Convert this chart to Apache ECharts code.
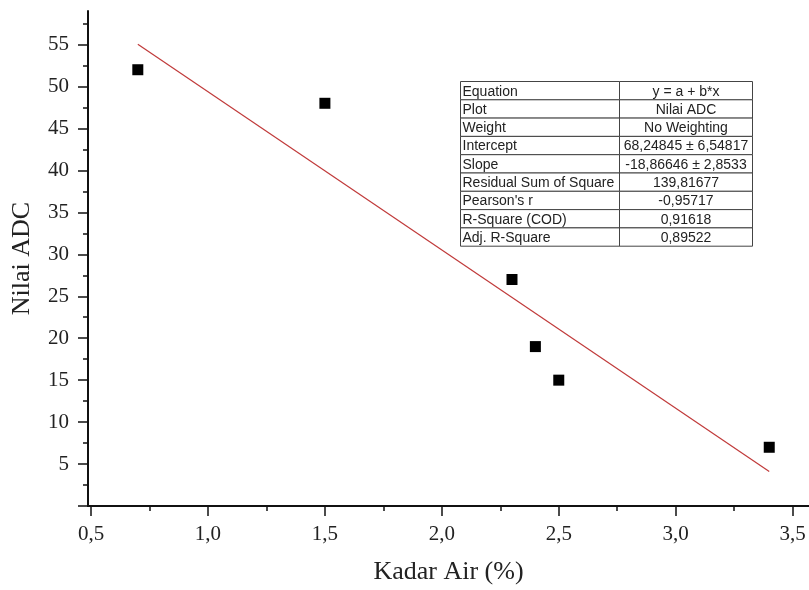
<!DOCTYPE html>
<html>
<head>
    <meta charset="utf-8">
    <title>Nilai ADC vs Kadar Air</title>
    <script src="https://cdn.jsdelivr.net/npm/echarts@6.0.0/dist/echarts.min.js"></script>
</head>
<body style="margin:0;background:#fff;">
<div id="main" style="width:809px;height:590px;"></div>
<script type="text/javascript">
    // data
    var kadarAir = [0.7, 1.5, 2.3, 2.4, 2.5, 3.4];
    var nilaiADC = [52, 48, 27, 19, 15, 7];
    // fitted line end points (y = 68,24845 - 18,86646 x)
    var fitX = [0.7, 3.4];
    var fitY = [55.04, 4.11];

    var xTicks = [0.5, 1.0, 1.5, 2.0, 2.5, 3.0, 3.5];
    var xMinor = [0.75, 1.25, 1.75, 2.25, 2.75, 3.25];
    var yTicks = [0, 5, 10, 15, 20, 25, 30, 35, 40, 45, 50, 55];
    var yLabels = [5, 10, 15, 20, 25, 30, 35, 40, 45, 50, 55];
    var yMinor = [2.5, 7.5, 12.5, 17.5, 22.5, 27.5, 32.5, 37.5, 42.5, 47.5, 52.5, 57.5];

    var tableKeys = ['Equation', 'Plot', 'Weight', 'Intercept', 'Slope',
        'Residual Sum of Square', "Pearson's r", 'R-Square (COD)', 'Adj. R-Square'];
    var tableVals = ['y = a + b*x', 'Nilai ADC', 'No Weighting', '68,24845 \u00b1 6,54817',
        '-18,86646 \u00b1 2,8533', '139,81677', '-0,95717', '0,91618', '0,89522'];

    var myChart = echarts.init(document.getElementById('main'));

    var serif = '"Liberation Serif", "Times New Roman", serif';
    var axisColor = '#111';

    // stats table
    var rowH = 18.3, col1 = 159, col2 = 133;
    var cells = [];
    for (var i = 0; i < tableKeys.length; i++) {
        cells.push({
            type: 'rect',
            shape: {x: 0, y: i * rowH, width: col1, height: rowH},
            style: {fill: '#fff', stroke: '#444', lineWidth: 1}
        });
        cells.push({
            type: 'rect',
            shape: {x: col1, y: i * rowH, width: col2, height: rowH},
            style: {fill: '#fff', stroke: '#444', lineWidth: 1}
        });
        cells.push({
            type: 'text',
            x: 2, y: i * rowH + rowH / 2 + 1,
            style: {text: tableKeys[i], font: '14px "Liberation Sans"', fill: '#222', verticalAlign: 'middle'}
        });
        cells.push({
            type: 'text',
            x: col1 + col2 / 2, y: i * rowH + rowH / 2 + 1,
            style: {text: tableVals[i], font: '14px "Liberation Sans"', fill: '#222', align: 'center', verticalAlign: 'middle'}
        });
    }

    var hideAxis = {
        axisLine: {show: false},
        axisLabel: {show: false},
        splitLine: {show: false}
    };

    var option = {
        backgroundColor: '#fff',
        animation: false,
        grid: {left: 88, right: 0, top: 11, bottom: 83},
        xAxis: [{
            type: 'value',
            min: 0.487,
            max: 3.57,
            position: 'bottom',
            name: 'Kadar Air (%)',
            nameLocation: 'middle',
            nameGap: 53,
            nameTextStyle: {fontFamily: serif, fontSize: 26, color: '#222'},
            axisLine: {show: true, lineStyle: {color: axisColor, width: 2}},
            axisTick: {show: true, customValues: xTicks, length: 10, lineStyle: {color: axisColor, width: 1.5}},
            axisLabel: {
                customValues: xTicks, margin: 18, fontFamily: serif, fontSize: 21, color: '#222',
                formatter: function (v) { return v.toFixed(1).replace('.', ','); }
            },
            splitLine: {show: false}
        }, Object.assign({
            type: 'value',
            min: 0.487,
            max: 3.57,
            position: 'bottom',
            axisTick: {show: true, customValues: xMinor, length: 5, lineStyle: {color: axisColor, width: 1.5}}
        }, hideAxis)],
        yAxis: [{
            type: 'value',
            min: 0,
            max: 59,
            position: 'left',
            name: 'Nilai ADC',
            nameLocation: 'middle',
            nameGap: 53,
            nameTextStyle: {fontFamily: serif, fontSize: 26, color: '#222'},
            axisLine: {show: true, lineStyle: {color: axisColor, width: 2}},
            axisTick: {show: true, customValues: yTicks, length: 10, lineStyle: {color: axisColor, width: 1.5}},
            axisLabel: {customValues: yLabels, margin: 19, fontFamily: serif, fontSize: 21, color: '#222'},
            splitLine: {show: false}
        }, Object.assign({
            type: 'value',
            min: 0,
            max: 59,
            position: 'left',
            axisTick: {show: true, customValues: yMinor, length: 5, lineStyle: {color: axisColor, width: 1.5}}
        }, hideAxis)],
        series: [{
            type: 'line',
            name: 'fit',
            data: fitX.map(function (x, i) { return [x, fitY[i]]; }),
            showSymbol: false,
            lineStyle: {color: '#c03a3a', width: 1.2},
            z: 2
        }, {
            type: 'scatter',
            name: 'Nilai ADC',
            data: kadarAir.map(function (x, i) { return [x, nilaiADC[i]]; }),
            symbol: 'rect',
            symbolSize: 11,
            itemStyle: {color: '#000', opacity: 1},
            z: 3
        }],
        graphic: {
            elements: [{
                type: 'group',
                left: 460,
                top: 81,
                children: cells,
                z: 10
            }]
        }
    };

    myChart.setOption(option);
</script>
</body>
</html>
